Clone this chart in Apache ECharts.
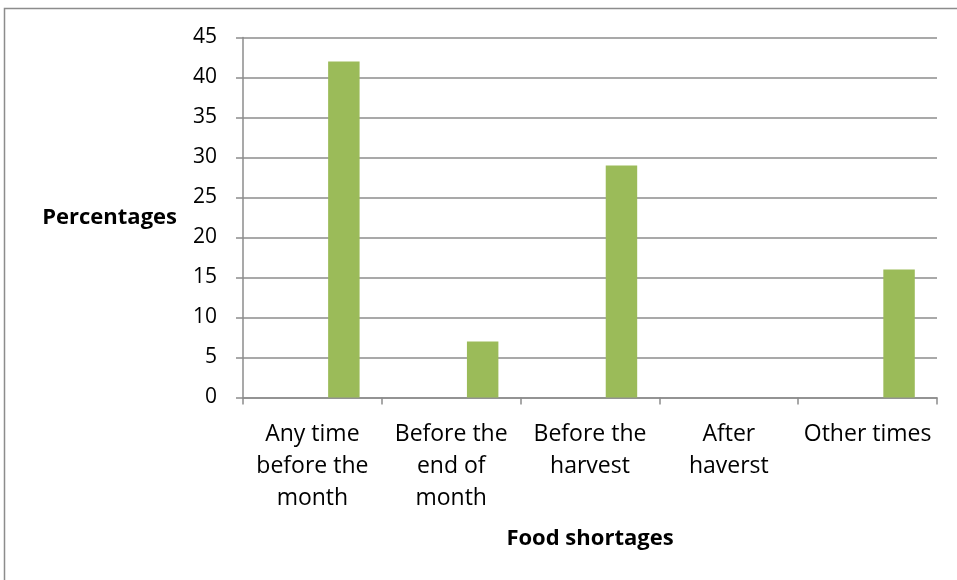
<!DOCTYPE html>
<html>
<head>
<meta charset="utf-8">
<script src="https://cdn.jsdelivr.net/npm/echarts@6/dist/echarts.min.js"></script>
<style>
html,body{margin:0;padding:0;background:#fff;}
#chart{width:957px;height:580px;}
</style>
</head>
<body>
<div id="chart"></div>
<script>
const categories = ['Any time\nbefore the\nmonth', 'Before the\nend of\nmonth', 'Before the\nharvest', 'After\nhaverst', 'Other times'];
const emptySeriesA = [null, null, null, null, null];
const emptySeriesB = [null, null, null, null, null];
const percentages = [42, 7, 29, 0, 16];
const yTicks = {min: 0, max: 45, interval: 5};
const xTitle = 'Food shortages';
const yTitle = 'Percentages';

const FONT = 'Open Sans';
const GRAY = '#8c8c8c';
const chart = echarts.init(document.getElementById('chart'), null, {renderer: 'canvas', width: 957, height: 580});
chart.setOption({
  animation: false,
  backgroundColor: '#fff',
  graphic: [{
    type: 'rect', silent: true,
    shape: {x: 4.5, y: 8.5, width: 1200, height: 1200},
    style: {fill: 'none', stroke: GRAY, lineWidth: 1.5}
  }],
  grid: {left: 243, width: 694, top: 37.5, height: 360, containLabel: false},
  xAxis: {
    type: 'category',
    data: categories,
    name: xTitle,
    nameLocation: 'middle',
    nameGap: 130,
    nameTextStyle: {fontFamily: FONT, fontSize: 22, fontWeight: 'bold', color: '#000'},
    axisLine: {lineStyle: {color: GRAY, width: 1.5}},
    axisTick: {show: true, length: 7, alignWithLabel: false, lineStyle: {color: GRAY, width: 1.5}},
    axisLabel: {fontFamily: FONT, fontSize: 23, color: '#000', lineHeight: 32, margin: 21, interval: 0, align: 'center'},
    splitLine: {show: false}
  },
  yAxis: {
    type: 'value',
    min: yTicks.min, max: yTicks.max, interval: yTicks.interval,
    name: yTitle,
    nameLocation: 'middle',
    nameRotate: 0,
    nameGap: 66,
    nameTextStyle: {fontFamily: FONT, fontSize: 22, fontWeight: 'bold', color: '#000', padding: [10, 0, 0, 0]},
    axisLine: {show: true, lineStyle: {color: GRAY, width: 1.5}},
    axisTick: {show: true, length: 7, inside: false, lineStyle: {color: GRAY, width: 1.5}},
    axisLabel: {fontFamily: FONT, fontSize: 21, color: '#000', margin: 26},
    splitLine: {show: true, lineStyle: {color: GRAY, width: 1.5}}
  },
  series: [
    {type: 'bar', data: emptySeriesA, barGap: '0%', barCategoryGap: '32%', itemStyle: {color: '#4F81BD'}},
    {type: 'bar', data: emptySeriesB, barGap: '0%', barCategoryGap: '32%', itemStyle: {color: '#C0504D'}},
    {type: 'bar', data: percentages, barGap: '0%', barCategoryGap: '32%', itemStyle: {color: '#9BBB59'}}
  ]
});
</script>
</body>
</html>
